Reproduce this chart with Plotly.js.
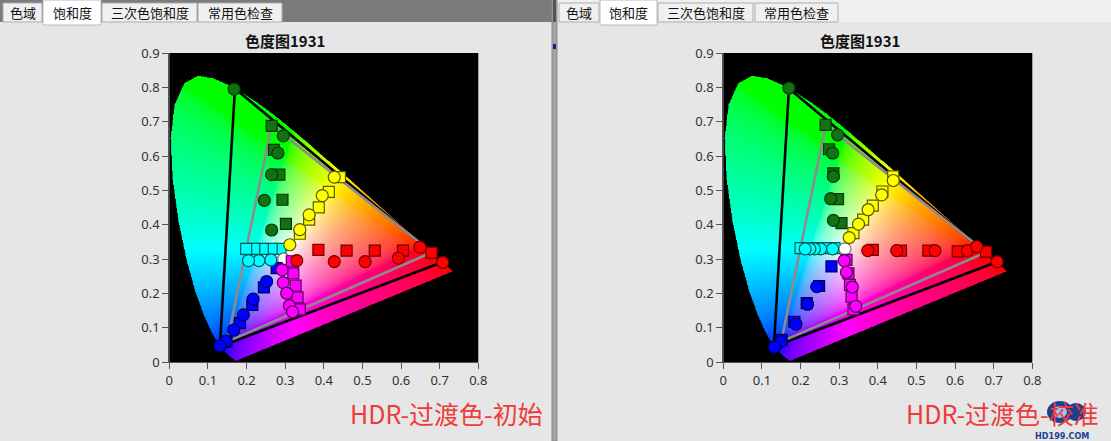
<!DOCTYPE html>
<html><head><meta charset="utf-8">
<script src="https://cdn.plot.ly/plotly-3.0.1.min.js"></script>
<style>html,body{margin:0;padding:0;background:#e6e6e6;overflow:hidden}</style>
</head><body><div id="chart" style="width:1111px;height:441px"></div>
<script>
// CIE 1931 spectral locus (380-700 nm, 5 nm)
const locusX = [0.1741,0.1740,0.1738,0.1736,0.1733,0.1730,0.1726,0.1721,0.1714,0.1703,0.1689,0.1669,0.1644,0.1611,0.1566,0.1510,0.1440,0.1355,0.1241,0.1096,0.0913,0.0687,0.0454,0.0235,0.0082,0.0039,0.0139,0.0389,0.0743,0.1142,0.1547,0.1929,0.2296,0.2658,0.3016,0.3373,0.3731,0.4087,0.4441,0.4788,0.5125,0.5448,0.5752,0.6029,0.6270,0.6482,0.6658,0.6801,0.6915,0.7006,0.7079,0.7140,0.7190,0.7230,0.7260,0.7283,0.7300,0.7311,0.7320,0.7327,0.7334,0.7340,0.7344,0.7346,0.7347];
const locusY = [0.0050,0.0050,0.0049,0.0049,0.0048,0.0048,0.0048,0.0048,0.0051,0.0058,0.0069,0.0086,0.0109,0.0138,0.0177,0.0227,0.0297,0.0399,0.0578,0.0868,0.1327,0.2007,0.2950,0.4127,0.5384,0.6548,0.7502,0.8120,0.8338,0.8262,0.8059,0.7816,0.7543,0.7243,0.6923,0.6589,0.6245,0.5896,0.5547,0.5202,0.4866,0.4544,0.4242,0.3965,0.3725,0.3514,0.3340,0.3197,0.3083,0.2993,0.2920,0.2859,0.2809,0.2770,0.2740,0.2717,0.2700,0.2689,0.2680,0.2673,0.2666,0.2660,0.2656,0.2654,0.2653];

// Gamut triangles
const bt2020X = [0.708,0.170,0.131,0.708];
const bt2020Y = [0.292,0.797,0.046,0.292];
const p3X = [0.680,0.265,0.150,0.680];
const p3Y = [0.320,0.690,0.060,0.320];

// Ticks
const xTickVals = [0,0.1,0.2,0.3,0.4,0.5,0.6,0.7,0.8];
const xTickText = ['0','0.1','0.2','0.3','0.4','0.5','0.6','0.7','0.8'];
const yTickVals = [0,0.1,0.2,0.3,0.4,0.5,0.6,0.7,0.8,0.9];
const yTickText = ['0','0.1','0.2','0.3','0.4','0.5','0.6','0.7','0.8','0.9'];

const tabLabels = ['色域','饱和度','三次色饱和度','常用色检查'];
const chartTitle = '色度图1931';
const leftCaption = 'HDR-过渡色-初始';
const rightCaption = 'HDR-过渡色-校准';
const watermark = 'HD199.COM';

// ---- Left panel (初始): squares = targets, circles = measured
const iniRedSqX = [0.386,0.459,0.532,0.605,0.679];
const iniRedSqY = [0.327,0.325,0.325,0.325,0.319];
const iniRedCiX = [0.330,0.427,0.507,0.593,0.649,0.708];
const iniRedCiY = [0.296,0.293,0.293,0.303,0.335,0.291];
const iniGreenSqX = [0.302,0.293,0.285,0.271,0.265];
const iniGreenSqY = [0.403,0.473,0.546,0.618,0.688];
const iniGreenCiX = [0.265,0.246,0.265,0.281,0.295,0.168];
const iniGreenCiY = [0.385,0.471,0.546,0.609,0.659,0.795];
const iniBlueSqX = [0.278,0.245,0.215,0.183,0.148];
const iniBlueSqY = [0.274,0.218,0.167,0.114,0.060];
const iniBlueCiX = [0.252,0.217,0.192,0.167,0.147,0.131];
const iniBlueCiY = [0.235,0.184,0.138,0.094,0.062,0.048];
const iniYellowSqX = [0.338,0.362,0.387,0.413,0.442];
const iniYellowSqY = [0.374,0.415,0.451,0.496,0.539];
const iniYellowCiX = [0.312,0.338,0.362,0.396,0.427];
const iniYellowCiY = [0.342,0.386,0.429,0.485,0.539];
const iniCyanSqX = [0.288,0.265,0.242,0.220,0.199];
const iniCyanSqY = [0.330,0.330,0.330,0.330,0.330];
const iniCyanCiX = [0.263,0.232,0.205];
const iniCyanCiY = [0.298,0.296,0.296];
const iniMagentaSqX = [0.317,0.321,0.327,0.332,0.338];
const iniMagentaSqY = [0.294,0.259,0.223,0.189,0.154];
const iniMagentaCiX = [0.292,0.295,0.304,0.311,0.319];
const iniMagentaCiY = [0.269,0.232,0.201,0.165,0.147];
const iniWhiteX = [0.296];
const iniWhiteY = [0.300];

// ---- Right panel (校准)
const calRedSqX = [0.387,0.460,0.531,0.607,0.680];
const calRedSqY = [0.327,0.325,0.325,0.323,0.322];
const calRedCiX = [0.374,0.449,0.548,0.632,0.656,0.709];
const calRedCiY = [0.325,0.325,0.325,0.325,0.337,0.293];
const calGreenSqX = [0.306,0.297,0.285,0.274,0.265];
const calGreenSqY = [0.405,0.475,0.550,0.620,0.691];
const calGreenCiX = [0.285,0.278,0.285,0.283,0.296,0.170];
const calGreenCiY = [0.413,0.476,0.541,0.609,0.662,0.798];
const calBlueSqX = [0.280,0.248,0.216,0.184,0.151];
const calBlueSqY = [0.279,0.222,0.172,0.118,0.065];
const calBlueCiX = [0.242,0.218,0.188,0.149,0.132];
const calBlueCiY = [0.220,0.169,0.111,0.060,0.044];
const calYellowSqX = [0.337,0.362,0.387,0.412,0.440];
const calYellowSqY = [0.376,0.415,0.456,0.497,0.541];
const calYellowCiX = [0.326,0.350,0.375,0.410,0.440];
const calYellowCiY = [0.363,0.402,0.444,0.487,0.529];
const calCyanSqX = [0.288,0.265,0.242,0.220,0.200];
const calCyanSqY = [0.332,0.332,0.332,0.332,0.332];
const calCyanCiX = [0.283,0.252,0.236,0.224,0.212];
const calCyanCiY = [0.330,0.330,0.330,0.330,0.330];
const calMagentaSqX = [0.319,0.324,0.328,0.332,0.337];
const calMagentaSqY = [0.298,0.259,0.225,0.191,0.154];
const calMagentaCiX = [0.313,0.319,0.334,0.343];
const calMagentaCiY = [0.296,0.262,0.219,0.163];
const calWhiteX = [0.315];
const calWhiteY = [0.330];

// ---------- horseshoe background image ----------
function insidePoly(px, py, xs, ys) {
  let inside = false;
  for (let i = 0, j = xs.length - 1; i < xs.length; j = i++) {
    if (((ys[i] > py) !== (ys[j] > py)) &&
        (px < (xs[j] - xs[i]) * (py - ys[i]) / (ys[j] - ys[i]) + xs[i])) inside = !inside;
  }
  return inside;
}
function gam(c){ return c <= 0.0031308 ? 12.92*c : 1.055*Math.pow(c,1/2.4)-0.055; }
function horseshoe() {
  const W = 480, H = 540;
  const cv = document.createElement('canvas');
  cv.width = W; cv.height = H;
  const ctx = cv.getContext('2d');
  const img = ctx.createImageData(W, H);
  for (let j = 0; j < H; j++) {
    const y = 0.9 - (j + 0.5) / H * 0.9;
    for (let i = 0; i < W; i++) {
      const x = (i + 0.5) / W * 0.8;
      const k = (j * W + i) * 4;
      if (y <= 0 || !insidePoly(x, y, locusX, locusY)) { img.data[k+3] = 0; continue; }
      const X = x / y, Y = 1, Z = (1 - x - y) / y;
      let r = 3.2406*X - 1.5372*Y - 0.4986*Z;
      let g = -0.9689*X + 1.8758*Y + 0.0415*Z;
      let b = 0.0557*X - 0.2040*Y + 1.0570*Z;
      r = Math.max(r,0); g = Math.max(g,0); b = Math.max(b,0);
      const m = Math.max(r,g,b) || 1;
      img.data[k]   = Math.round(255*gam(r/m));
      img.data[k+1] = Math.round(255*gam(g/m));
      img.data[k+2] = Math.round(255*gam(b/m));
      img.data[k+3] = 255;
    }
  }
  ctx.putImageData(img, 0, 0);
  return cv.toDataURL('image/png');
}
const hsSrc = horseshoe();

// ---------- traces ----------
const COL = {
  red:['#ff0000','#6a0000'], green:['#117211','#063806'], blue:['#0000ff','#00005a'],
  yellow:['#ffff00','#5a5a00'], cyan:['#00ffff','#005a5a'], magenta:['#ff00ff','#5a005a'],
  white:['#ffffff','#777777']
};
const traces = [];
function line(xs, ys, color, xa, ya) {
  traces.push({type:'scatter', mode:'lines', x:xs, y:ys, xaxis:xa, yaxis:ya,
    line:{color:color, width:2.6}, hoverinfo:'skip', showlegend:false});
}
function mk(xs, ys, symbol, c, xa, ya) {
  traces.push({type:'scatter', mode:'markers', x:xs, y:ys, xaxis:xa, yaxis:ya, showlegend:false,
    marker:{symbol:symbol, size: symbol==='square'?11:12, color:COL[c][0], line:{color:COL[c][1], width:1.2}}});
}
function panel(d, xa, ya) {
  line(bt2020X, bt2020Y, '#000000', xa, ya);
  line(p3X, p3Y, '#8c8c8c', xa, ya);
  mk(d.greenSq[0], d.greenSq[1], 'square', 'green', xa, ya);
  mk(d.yellowSq[0], d.yellowSq[1], 'square', 'yellow', xa, ya);
  mk(d.cyanSq[0], d.cyanSq[1], 'square', 'cyan', xa, ya);
  mk(d.white[0], d.white[1], 'circle', 'white', xa, ya);
  mk(d.redSq[0], d.redSq[1], 'square', 'red', xa, ya);
  mk(d.blueSq[0], d.blueSq[1], 'square', 'blue', xa, ya);
  mk(d.magentaSq[0], d.magentaSq[1], 'square', 'magenta', xa, ya);
  mk(d.greenCi[0], d.greenCi[1], 'circle', 'green', xa, ya);
  mk(d.yellowCi[0], d.yellowCi[1], 'circle', 'yellow', xa, ya);
  mk(d.cyanCi[0], d.cyanCi[1], 'circle', 'cyan', xa, ya);
  mk(d.redCi[0], d.redCi[1], 'circle', 'red', xa, ya);
  mk(d.blueCi[0], d.blueCi[1], 'circle', 'blue', xa, ya);
  mk(d.magentaCi[0], d.magentaCi[1], 'circle', 'magenta', xa, ya);
}
panel({redSq:[iniRedSqX,iniRedSqY], redCi:[iniRedCiX,iniRedCiY], greenSq:[iniGreenSqX,iniGreenSqY], greenCi:[iniGreenCiX,iniGreenCiY],
  blueSq:[iniBlueSqX,iniBlueSqY], blueCi:[iniBlueCiX,iniBlueCiY], yellowSq:[iniYellowSqX,iniYellowSqY], yellowCi:[iniYellowCiX,iniYellowCiY],
  cyanSq:[iniCyanSqX,iniCyanSqY], cyanCi:[iniCyanCiX,iniCyanCiY], magentaSq:[iniMagentaSqX,iniMagentaSqY], magentaCi:[iniMagentaCiX,iniMagentaCiY],
  white:[iniWhiteX,iniWhiteY]}, 'x', 'y');
panel({redSq:[calRedSqX,calRedSqY], redCi:[calRedCiX,calRedCiY], greenSq:[calGreenSqX,calGreenSqY], greenCi:[calGreenCiX,calGreenCiY],
  blueSq:[calBlueSqX,calBlueSqY], blueCi:[calBlueCiX,calBlueCiY], yellowSq:[calYellowSqX,calYellowSqY], yellowCi:[calYellowCiX,calYellowCiY],
  cyanSq:[calCyanSqX,calCyanSqY], cyanCi:[calCyanCiX,calCyanCiY], magentaSq:[calMagentaSqX,calMagentaSqY], magentaCi:[calMagentaCiX,calMagentaCiY],
  white:[calWhiteX,calWhiteY]}, 'x2', 'y2');

// ---------- layout ----------
const WW = 1111, HH = 441;
const px = v => v / WW, py = v => 1 - v / HH;
const CJK = 'Noto Sans CJK SC, Noto Sans, sans-serif';

function axisX(l, r, anchor) {
  return {domain:[px(l), px(r)], range:[0,0.8], autorange:false, anchor:anchor,
    tickvals:xTickVals, ticktext:xTickText, showgrid:false, zeroline:false,
    showline:true, linecolor:'#555', linewidth:1, ticks:'outside', ticklen:6, tickcolor:'#555',
    tickfont:{family:'Noto Sans, sans-serif', size:13, color:'#333'}, fixedrange:true, scaleanchor:false};
}
function axisY(t, b, anchor) {
  return {domain:[py(b), py(t)], range:[0,0.9], autorange:false, anchor:anchor,
    tickvals:yTickVals, ticktext:yTickText, showgrid:false, zeroline:false,
    showline:true, linecolor:'#555', linewidth:1, ticks:'outside', ticklen:6, tickcolor:'#555',
    tickfont:{family:'Noto Sans, sans-serif', size:13, color:'#333'}, fixedrange:true, scaleanchor:false};
}

const shapes = [];
const annotations = [];
function rect(x0,y0,x1,y1,fill,lc,lw,layer){
  shapes.push({type:'rect', xref:'paper', yref:'paper', x0:px(x0), x1:px(x1), y0:py(y1), y1:py(y0),
    fillcolor:fill, line:{color:lc||fill, width:lw===undefined?0:lw}, layer:layer||'below'});
}
function text(x,y,t,size,color,extra){
  annotations.push(Object.assign({xref:'paper', yref:'paper', x:px(x), y:py(y), text:t, showarrow:false,
    xanchor:'center', yanchor:'middle', font:{family:CJK, size:size, color:color}}, extra||{}));
}

// tab bars
rect(0,0,553,22,'#7b7b7b');
rect(557,0,1111,22,'#f0f0f0');
const tabsL = [[3,42],[43,101],[102,197],[198,282]];
const tabsR = [[559,599],[600,657],[658,753],[755,838]];
[tabsL, tabsR].forEach(tabs => {
  tabs.forEach((tb,i) => {
    const sel = i === 1;
    if (sel) rect(tb[0], 0, tb[1], 25, '#ffffff', '#b9b9b9', 1);
    else rect(tb[0], 3, tb[1], 22, '#f0f0f0', '#adadad', 1);
    text((tb[0]+tb[1])/2, sel?12:13, tabLabels[i], 13, '#111');
  });
});
// divider
rect(552,0,557,441,'#a3a3a3','#8a8a8a',1);
rect(553,0,556,22,'#555555');
rect(553,44,556,49,'#1a1a8a');

// titles
text(285, 40, '<b>'+chartTitle+'</b>', 15, '#111');
text(860, 40, '<b>'+chartTitle+'</b>', 15, '#111');
// captions
text(446, 413, leftCaption, 25, '#ef3b3b');
text(1002, 413, rightCaption, 25, '#ef3b3b');
// watermark logo
shapes.push({type:'circle', xref:'paper', yref:'paper', x0:px(1047), x1:px(1073), y0:py(423), y1:py(401),
  fillcolor:'#1d3f8f', line:{color:'#1d3f8f', width:0}, layer:'above'});
shapes.push({type:'circle', xref:'paper', yref:'paper', x0:px(1066), x1:px(1086), y0:py(421), y1:py(403),
  fillcolor:'#1d3f8f', line:{color:'#1d3f8f', width:0}, layer:'above'});
shapes.push({type:'circle', xref:'paper', yref:'paper', x0:px(1053), x1:px(1067), y0:py(418), y1:py(406),
  fillcolor:'#9fc3e8', line:{color:'#9fc3e8', width:0}, layer:'above'});
text(1062, 436, '<b>'+watermark+'</b>', 9, '#1d3f8f', {yanchor:'middle', font:{family:'DejaVu Sans Condensed, DejaVu Sans, sans-serif', size:9, color:'#1d3f8f'}});

const layout = {
  width: WW, height: HH, margin:{l:0,r:0,t:0,b:0},
  paper_bgcolor:'#e6e6e6', plot_bgcolor:'#000000', showlegend:false,
  xaxis: axisX(169.3, 478.3, 'y'),
  yaxis: axisY(53, 362.3, 'x'),
  xaxis2: axisX(723.3, 1032.3, 'y2'),
  yaxis2: axisY(53, 362.3, 'x2'),
  images: [
    {source:hsSrc, xref:'x', yref:'y', x:0, y:0.9, sizex:0.8, sizey:0.9, xanchor:'left', yanchor:'top', sizing:'stretch', layer:'below'},
    {source:hsSrc, xref:'x2', yref:'y2', x:0, y:0.9, sizex:0.8, sizey:0.9, xanchor:'left', yanchor:'top', sizing:'stretch', layer:'below'}
  ],
  shapes: shapes, annotations: annotations
};
Plotly.newPlot('chart', traces, layout, {displayModeBar:false, staticPlot:true});
</script></body></html>
